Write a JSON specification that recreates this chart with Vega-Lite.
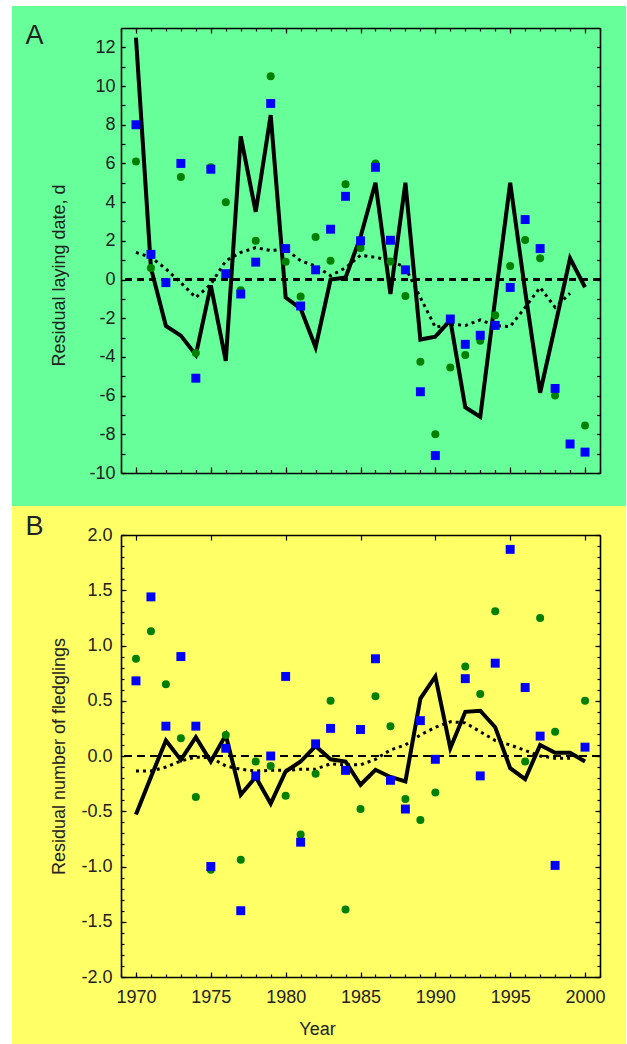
{
  "$schema": "https://vega.github.io/schema/vega-lite/v6.json",
  "background": "white",
  "padding": {"left": 12, "top": 5, "right": 1, "bottom": 0},
  "config": {
    "view": {"stroke": null},
    "font": "Liberation Sans",
    "axis": {
      "labelFont": "Liberation Sans", "labelFontSize": 18, "labelColor": "#222222",
      "titleFont": "Liberation Sans", "titleFontSize": 18, "titleFontWeight": "normal", "titleColor": "#222222",
      "domainColor": "black", "domainWidth": 1.6, "tickColor": "black", "tickWidth": 1.2,
      "grid": false
    }
  },
  "datasets": {
    "A": [
      {"year": 1970, "blue": 8.0, "green": 6.1, "resid": 12.5, "trend": 1.4},
      {"year": 1971, "blue": 1.3, "green": 0.6, "resid": 0.6, "trend": 1.15},
      {"year": 1972, "blue": -0.16, "green": null, "resid": -2.4, "trend": 0.55},
      {"year": 1973, "blue": 6.0, "green": 5.3, "resid": -2.9, "trend": -0.17},
      {"year": 1974, "blue": -5.1, "green": -3.8, "resid": -3.9, "trend": -0.93},
      {"year": 1975, "blue": 5.7, "green": 5.8, "resid": -0.3, "trend": -0.25},
      {"year": 1976, "blue": 0.3, "green": 4.0, "resid": -4.2, "trend": 0.97},
      {"year": 1977, "blue": -0.75, "green": -0.55, "resid": 7.4, "trend": 1.4},
      {"year": 1978, "blue": 0.9, "green": 2.0, "resid": 3.5, "trend": 1.65},
      {"year": 1979, "blue": 9.1, "green": 10.5, "resid": 8.5, "trend": 1.5},
      {"year": 1980, "blue": 1.6, "green": 0.92, "resid": -0.93, "trend": 1.57},
      {"year": 1981, "blue": -1.37, "green": -0.88, "resid": -1.5, "trend": 0.97},
      {"year": 1982, "blue": 0.5, "green": 2.2, "resid": -3.5, "trend": 0.7},
      {"year": 1983, "blue": 2.6, "green": 0.97, "resid": 0.0, "trend": 0.2},
      {"year": 1984, "blue": 4.3, "green": 4.93, "resid": 0.1, "trend": 0.6},
      {"year": 1985, "blue": 2.0, "green": 1.63, "resid": 2.2, "trend": 1.25},
      {"year": 1986, "blue": 5.8, "green": 6.0, "resid": 5.0, "trend": 1.15},
      {"year": 1987, "blue": 2.03, "green": 0.93, "resid": -0.75, "trend": 0.97},
      {"year": 1988, "blue": 0.5, "green": -0.85, "resid": 5.0, "trend": 0.62},
      {"year": 1989, "blue": -5.8, "green": -4.25, "resid": -3.1, "trend": -0.93},
      {"year": 1990, "blue": -9.1, "green": -8.0, "resid": -2.95, "trend": -2.47},
      {"year": 1991, "blue": -2.04, "green": -4.55, "resid": -2.1, "trend": -2.3},
      {"year": 1992, "blue": -3.35, "green": -3.9, "resid": -6.6, "trend": -2.38},
      {"year": 1993, "blue": -2.88, "green": -3.16, "resid": -7.1, "trend": -2.09},
      {"year": 1994, "blue": -2.37, "green": -1.85, "resid": -1.0, "trend": -2.38},
      {"year": 1995, "blue": -0.41, "green": 0.7, "resid": 5.0, "trend": -2.43},
      {"year": 1996, "blue": 3.1, "green": 2.04, "resid": -0.6, "trend": -1.44},
      {"year": 1997, "blue": 1.6, "green": 1.1, "resid": -5.85, "trend": -0.41},
      {"year": 1998, "blue": -5.63, "green": -6.0, "resid": -2.4, "trend": -1.44},
      {"year": 1999, "blue": -8.5, "green": null, "resid": 1.1, "trend": -0.72},
      {"year": 2000, "blue": -8.92, "green": -7.55, "resid": -0.4, "trend": null}
    ],
    "B": [
      {"year": 1970, "blue": 0.68, "green": 0.88, "resid": -0.53, "trend": -0.136},
      {"year": 1971, "blue": 1.44, "green": 1.13, "resid": -0.19, "trend": -0.136},
      {"year": 1972, "blue": 0.27, "green": 0.65, "resid": 0.14, "trend": -0.1},
      {"year": 1973, "blue": 0.9, "green": 0.16, "resid": -0.035, "trend": -0.045},
      {"year": 1974, "blue": 0.27, "green": -0.37, "resid": 0.17, "trend": -0.01},
      {"year": 1975, "blue": -1.0, "green": -1.03, "resid": -0.05, "trend": -0.015},
      {"year": 1976, "blue": 0.07, "green": 0.19, "resid": 0.19, "trend": -0.09},
      {"year": 1977, "blue": -1.4, "green": -0.94, "resid": -0.35, "trend": -0.12},
      {"year": 1978, "blue": -0.18, "green": -0.05, "resid": -0.19, "trend": -0.136},
      {"year": 1979, "blue": 0.0, "green": -0.09, "resid": -0.43, "trend": -0.13},
      {"year": 1980, "blue": 0.72, "green": -0.36, "resid": -0.14, "trend": -0.13},
      {"year": 1981, "blue": -0.78, "green": -0.71, "resid": -0.05, "trend": -0.12},
      {"year": 1982, "blue": 0.11, "green": -0.16, "resid": 0.09, "trend": -0.12},
      {"year": 1983, "blue": 0.25, "green": 0.5, "resid": -0.03, "trend": -0.07},
      {"year": 1984, "blue": -0.13, "green": -1.39, "resid": -0.05, "trend": -0.08},
      {"year": 1985, "blue": 0.24, "green": -0.48, "resid": -0.26, "trend": -0.08},
      {"year": 1986, "blue": 0.88, "green": 0.54, "resid": -0.125, "trend": -0.03},
      {"year": 1987, "blue": -0.22, "green": 0.27, "resid": -0.19, "trend": 0.055},
      {"year": 1988, "blue": -0.48, "green": -0.39, "resid": -0.23, "trend": 0.1},
      {"year": 1989, "blue": 0.32, "green": -0.58, "resid": 0.52, "trend": 0.19},
      {"year": 1990, "blue": -0.03, "green": -0.33, "resid": 0.72, "trend": 0.26},
      {"year": 1991, "blue": null, "green": null, "resid": 0.07, "trend": 0.31},
      {"year": 1992, "blue": 0.7, "green": 0.81, "resid": 0.4, "trend": 0.3},
      {"year": 1993, "blue": -0.18, "green": 0.56, "resid": 0.41, "trend": 0.22},
      {"year": 1994, "blue": 0.84, "green": 1.31, "resid": 0.26, "trend": 0.14},
      {"year": 1995, "blue": 1.87, "green": null, "resid": -0.11, "trend": 0.1},
      {"year": 1996, "blue": 0.62, "green": -0.05, "resid": -0.21, "trend": 0.05},
      {"year": 1997, "blue": 0.18, "green": 1.25, "resid": 0.1, "trend": 0.0},
      {"year": 1998, "blue": -0.99, "green": 0.22, "resid": 0.03, "trend": -0.02},
      {"year": 1999, "blue": null, "green": null, "resid": 0.03, "trend": -0.02},
      {"year": 2000, "blue": 0.08, "green": 0.5, "resid": -0.05, "trend": null}
    ]
  },
  "vconcat": [
    {
      "width": 479,
      "height": 445,
      "data": {"name": "A"},
      "resolve": {"axis": {"x": "independent", "y": "independent"}},
      "layer": [
        {
          "mark": {"type": "rect", "color": "#66FF99", "clip": false},
          "encoding": {
            "x": {"datum": 1961.7182, "type": "quantitative", "axis": null, "scale": {"domain": [1969, 2001], "nice": false, "zero": false}},
            "x2": {"datum": 2002.737},
            "y": {"datum": 14.1371, "type": "quantitative", "axis": null, "scale": {"domain": [-10, 13], "nice": false, "zero": false}},
            "y2": {"datum": -11.7056}
          }
        },
        {
          "mark": {"type": "rule", "color": "black", "strokeWidth": 2.2, "strokeDash": [7, 5]},
          "encoding": {"y": {"datum": 0, "type": "quantitative", "axis": null}}
        },
        {
          "mark": {"type": "line", "color": "black", "strokeWidth": 3, "strokeDash": [3, 4]},
          "encoding": {
            "x": {"field": "year", "type": "quantitative", "axis": {"zindex": 2, "orient": "top", "values": [1970, 1975, 1980, 1985, 1990, 1995, 2000], "labels": false, "tickSize": -5, "title": "A", "titleFontSize": 27, "titleX": -96, "titleY": 15, "titleAlign": "left", "titleBaseline": "alphabetic", "titleAnchor": "start"}},
            "y": {"field": "trend", "type": "quantitative", "axis": {"zindex": 2, "orient": "right", "values": [-10, -9, -8, -7, -6, -5, -4, -3, -2, -1, 0, 1, 2, 3, 4, 5, 6, 7, 8, 9, 10, 11, 12], "labels": false, "tickSize": -3.5, "title": null}}
          }
        },
        {
          "mark": {"type": "line", "color": "black", "strokeWidth": 4},
          "encoding": {
            "x": {"field": "year", "type": "quantitative", "axis": {"zindex": 2, "orient": "bottom", "values": [1970, 1975, 1980, 1985, 1990, 1995, 2000], "labels": false, "tickSize": -6, "title": null}},
            "y": {"field": "resid", "type": "quantitative", "axis": {"zindex": 2, "orient": "left", "values": [-10, -8, -6, -4, -2, 0, 2, 4, 6, 8, 10, 12], "format": "d", "labelExpr": "replace(datum.label, '\u2212', '-')", "tickSize": -4, "labelPadding": 10, "title": "Residual laying date, d", "titleAngle": 270, "titleX": -57, "titleY": 247, "titleBaseline": "alphabetic", "titleAlign": "center"}}
          }
        },
        {
          "mark": {"type": "point", "shape": "circle", "filled": true, "color": "#008000", "size": 64, "opacity": 1},
          "encoding": {
            "x": {"field": "year", "type": "quantitative", "axis": {"zindex": 2, "orient": "top", "values": [1969, 1970, 1971, 1972, 1973, 1974, 1975, 1976, 1977, 1978, 1979, 1980, 1981, 1982, 1983, 1984, 1985, 1986, 1987, 1988, 1989, 1990, 1991, 1992, 1993, 1994, 1995, 1996, 1997, 1998, 1999, 2000, 2001], "labels": false, "domain": false, "tickSize": -3, "title": null}},
            "y": {"field": "green", "type": "quantitative", "axis": null}
          }
        },
        {
          "mark": {"type": "point", "shape": "square", "filled": true, "color": "#0000FF", "size": 80, "opacity": 1},
          "encoding": {
            "x": {"field": "year", "type": "quantitative", "axis": {"zindex": 2, "orient": "bottom", "values": [1969, 1970, 1971, 1972, 1973, 1974, 1975, 1976, 1977, 1978, 1979, 1980, 1981, 1982, 1983, 1984, 1985, 1986, 1987, 1988, 1989, 1990, 1991, 1992, 1993, 1994, 1995, 1996, 1997, 1998, 1999, 2000, 2001], "labels": false, "domain": false, "tickSize": -3.5, "title": null}},
            "y": {"field": "blue", "type": "quantitative", "axis": {"zindex": 2, "orient": "left", "values": [-10, -9, -8, -7, -6, -5, -4, -3, -2, -1, 0, 1, 2, 3, 4, 5, 6, 7, 8, 9, 10, 11, 12], "labels": false, "domain": false, "tickSize": -4, "title": null}}
          }
        }
      ]
    },
    {
      "width": 479,
      "height": 442,
      "data": {"name": "B"},
      "resolve": {"axis": {"x": "independent", "y": "independent"}},
      "layer": [
        {
          "mark": {"type": "rect", "color": "#FFFF66", "clip": false},
          "encoding": {
            "x": {"datum": 1961.7182, "type": "quantitative", "axis": null, "scale": {"domain": [1969, 2001], "nice": false, "zero": false}},
            "x2": {"datum": 2002.737},
            "y": {"datum": 2.26244, "type": "quantitative", "axis": null, "scale": {"domain": [-2, 2], "nice": false, "zero": false}},
            "y2": {"datum": -2.61538}
          }
        },
        {
          "mark": {"type": "rule", "color": "black", "strokeWidth": 1.4, "strokeDash": [8, 5]},
          "encoding": {"y": {"datum": 0, "type": "quantitative", "axis": null}}
        },
        {
          "mark": {"type": "line", "color": "black", "strokeWidth": 3, "strokeDash": [3, 4]},
          "encoding": {
            "x": {"field": "year", "type": "quantitative", "axis": {"zindex": 2, "orient": "top", "values": [1970, 1975, 1980, 1985, 1990, 1995, 2000], "labels": false, "tickSize": -5, "title": "B", "titleFontSize": 27, "titleX": -96, "titleY": -1, "titleAlign": "left", "titleBaseline": "alphabetic", "titleAnchor": "start"}},
            "y": {"field": "trend", "type": "quantitative", "axis": {"zindex": 2, "orient": "right", "values": [-2, -1.5, -1, -0.5, 0, 0.5, 1, 1.5, 2], "labels": false, "tickSize": -5, "title": null}}
          }
        },
        {
          "mark": {"type": "line", "color": "black", "strokeWidth": 4},
          "encoding": {
            "x": {"field": "year", "type": "quantitative", "axis": {"zindex": 2, "orient": "bottom", "values": [1970, 1975, 1980, 1985, 1990, 1995, 2000], "format": "d", "tickSize": -5, "labelPadding": 16, "title": "Year", "titleX": 196, "titleY": 57, "titleBaseline": "alphabetic", "titleAlign": "center"}},
            "y": {"field": "resid", "type": "quantitative", "axis": {"zindex": 2, "orient": "left", "values": [-2, -1.5, -1, -0.5, 0, 0.5, 1, 1.5, 2], "format": ".1f", "labelExpr": "replace(datum.label, '\u2212', '-')", "tickSize": -5, "labelPadding": 14, "title": "Residual number of fledglings", "titleAngle": 270, "titleX": -57, "titleY": 221, "titleBaseline": "alphabetic", "titleAlign": "center"}}
          }
        },
        {
          "mark": {"type": "point", "shape": "circle", "filled": true, "color": "#008000", "size": 64, "opacity": 1},
          "encoding": {
            "x": {"field": "year", "type": "quantitative", "axis": null},
            "y": {"field": "green", "type": "quantitative", "axis": {"zindex": 2, "orient": "right", "values": [-2, -1.9, -1.8, -1.7, -1.6, -1.5, -1.4, -1.3, -1.2, -1.1, -1, -0.9, -0.8, -0.7, -0.6, -0.5, -0.4, -0.3, -0.2, -0.1, 0, 0.1, 0.2, 0.3, 0.4, 0.5, 0.6, 0.7, 0.8, 0.9, 1, 1.1, 1.2, 1.3, 1.4, 1.5, 1.6, 1.7, 1.8, 1.9, 2], "labels": false, "domain": false, "tickSize": -3, "title": null}}
          }
        },
        {
          "mark": {"type": "point", "shape": "square", "filled": true, "color": "#0000FF", "size": 80, "opacity": 1},
          "encoding": {
            "x": {"field": "year", "type": "quantitative", "axis": {"zindex": 2, "orient": "bottom", "values": [1969, 1970, 1971, 1972, 1973, 1974, 1975, 1976, 1977, 1978, 1979, 1980, 1981, 1982, 1983, 1984, 1985, 1986, 1987, 1988, 1989, 1990, 1991, 1992, 1993, 1994, 1995, 1996, 1997, 1998, 1999, 2000, 2001], "labels": false, "domain": false, "tickSize": -3, "title": null}},
            "y": {"field": "blue", "type": "quantitative", "axis": {"zindex": 2, "orient": "left", "values": [-2, -1.9, -1.8, -1.7, -1.6, -1.5, -1.4, -1.3, -1.2, -1.1, -1, -0.9, -0.8, -0.7, -0.6, -0.5, -0.4, -0.3, -0.2, -0.1, 0, 0.1, 0.2, 0.3, 0.4, 0.5, 0.6, 0.7, 0.8, 0.9, 1, 1.1, 1.2, 1.3, 1.4, 1.5, 1.6, 1.7, 1.8, 1.9, 2], "labels": false, "domain": false, "tickSize": -3, "title": null}}
          }
        }
      ]
    }
  ],
  "spacing": 0
}
